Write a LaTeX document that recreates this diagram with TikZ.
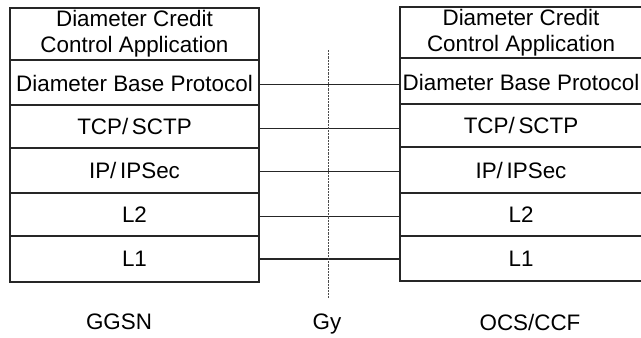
\documentclass[tikz,border=0pt]{standalone}
\usepackage{fontspec}
\setmainfont{Liberation Sans}
\usetikzlibrary{fit}
\begin{document}
\begin{tikzpicture}[x=0.75pt,y=-0.75pt,
  layer/.style={draw=black!85, line width=0.8pt, inner sep=0pt},
  ltext/.style={align=center, inner sep=0pt,
    font=\fontsize{16.8}{19.3}\selectfont},
  link/.style={draw=black!85, line width=0.8pt},
  iface/.style={draw=black!70, line width=0.5pt, dash pattern=on 1.6pt off 0.8pt},
  caption/.style={font=\fontsize{16.8}{19.3}\selectfont, inner sep=0pt}]
\useasboundingbox (0,0) rectangle (641,337);

% GGSN protocol stack
\node[layer, fit={(10,8) (259,60)}]    (la) {};
\node[layer, fit={(10,60) (259,105)}]  (lb) {};
\node[layer, fit={(10,105) (259,148)}] (lc) {};
\node[layer, fit={(10,148) (259,193)}] (ld) {};
\node[layer, fit={(10,193) (259,236)}] (le) {};
\node[layer, fit={(10,236) (259,282)}] (lf) {};
\node[ltext] (lat) at (la.center) {Diameter Credit\\Control Application};
\node[ltext] (lbt) at ([yshift=-1pt]lb.center) {Diameter Base Protocol};
\node[ltext] (lct) at (lc.center) {TCP/\,SCTP};
\node[ltext] (ldt) at (ld.center) {IP/\,IPSec};
\node[ltext] (let) at (le.center) {L2};
\node[ltext] (lft) at (lf.center) {L1};

% OCS/CCF protocol stack
\node[layer, fit={(400,7) (642,58)}]    (ra) {};
\node[layer, fit={(400,58) (642,104)}]  (rb) {};
\node[layer, fit={(400,104) (642,147)}] (rc) {};
\node[layer, fit={(400,147) (642,193)}] (rd) {};
\node[layer, fit={(400,193) (642,236)}] (re) {};
\node[layer, fit={(400,236) (642,281)}] (rf) {};
\node[ltext] (rat) at (ra.center) {Diameter Credit\\Control Application};
\node[ltext] (rbt) at ([yshift=-1pt]rb.center) {Diameter Base Protocol};
\node[ltext] (rct) at (rc.center) {TCP/\,SCTP};
\node[ltext] (rdt) at (rd.center) {IP/\,IPSec};
\node[ltext] (ret) at (re.center) {L2};
\node[ltext] (rft) at (rf.center) {L1};

% peer links between the stacks
\draw[link] ([yshift=-1.8pt]lb.east) -- ([yshift=-1.8pt]lb.east -| rb.west);
\draw[link] ([yshift=-1.2pt]lc.east) -- ([yshift=-1.2pt]lc.east -| rc.west);
\draw[link] ([yshift=-0.4pt]ld.east) -- ([yshift=-0.4pt]ld.east -| rd.west);
\draw[link] ([yshift=-1.8pt]le.east) -- ([yshift=-1.8pt]le.east -| re.west);
\draw[link] (lf.east) -- (lf.east -| rf.west);

% Gy reference point
\coordinate (gtop) at (328,50);
\coordinate (gbot) at (328,298);
\draw[iface] (gtop) -- (gbot);

% labels
\node[caption] (ggsn) at (119,322) {GGSN};
\node[caption] (gy)   at (327,324) {Gy};
\node[caption] (ocs)  at (530,322) {OCS/CCF};
\end{tikzpicture}
\end{document}
